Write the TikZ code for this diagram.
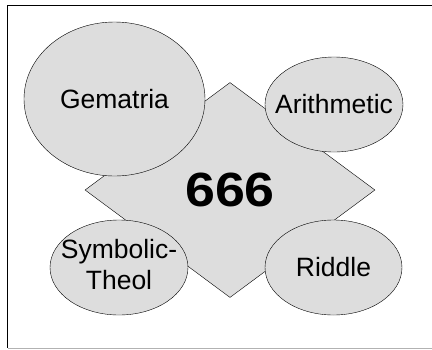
\documentclass[tikz,border=0pt]{standalone}
\usepackage{fontspec}
\setmainfont{Liberation Sans}
\usetikzlibrary{shapes.geometric}
\definecolor{shade}{HTML}{DDDDDD}

\begin{document}
\begin{tikzpicture}[x=1pt,y=-1pt]
  \tikzstyle{bubble} = [ellipse, draw, fill=shade, inner sep=0pt, font=\fontsize{26.5}{31}\selectfont]
  \tikzstyle{core} = [diamond, draw, fill=shade, inner sep=0pt, minimum width=290pt, minimum height=215pt, font=\fontsize{48}{50}\selectfont\bfseries]
  \useasboundingbox (0,0) rectangle (432,349);

  % Frame
  \draw [gray!60, line width=1pt] (7.5,348) -- (432,348);
  \draw [line width=1pt] (432,5) -- (7.5,5) -- (7.5,348);

  % Centre
  \node [core] (num) at (230,190) {\raisebox{1.5pt}{\scalebox{1.12}[1]{666}}};

  % Readings
  \node [bubble, minimum width=181pt, minimum height=154pt] (gem) at (114.5,99) {\makebox[0pt]{Gematria}};
  \node [bubble, minimum width=138pt, minimum height=95pt] (ari) at (334,104.5) {\makebox[0pt]{Arithmetic}};
  \node [bubble, minimum width=138pt, minimum height=95pt] (sym) at (119,267.5) {\makebox[0pt]{\begin{tabular}{@{}c@{}}Symbolic-\\Theol\end{tabular}}};
  \node [bubble, minimum width=137pt, minimum height=95pt] (rid) at (333.5,267.5) {\makebox[0pt]{Riddle}};
\end{tikzpicture}
\end{document}
